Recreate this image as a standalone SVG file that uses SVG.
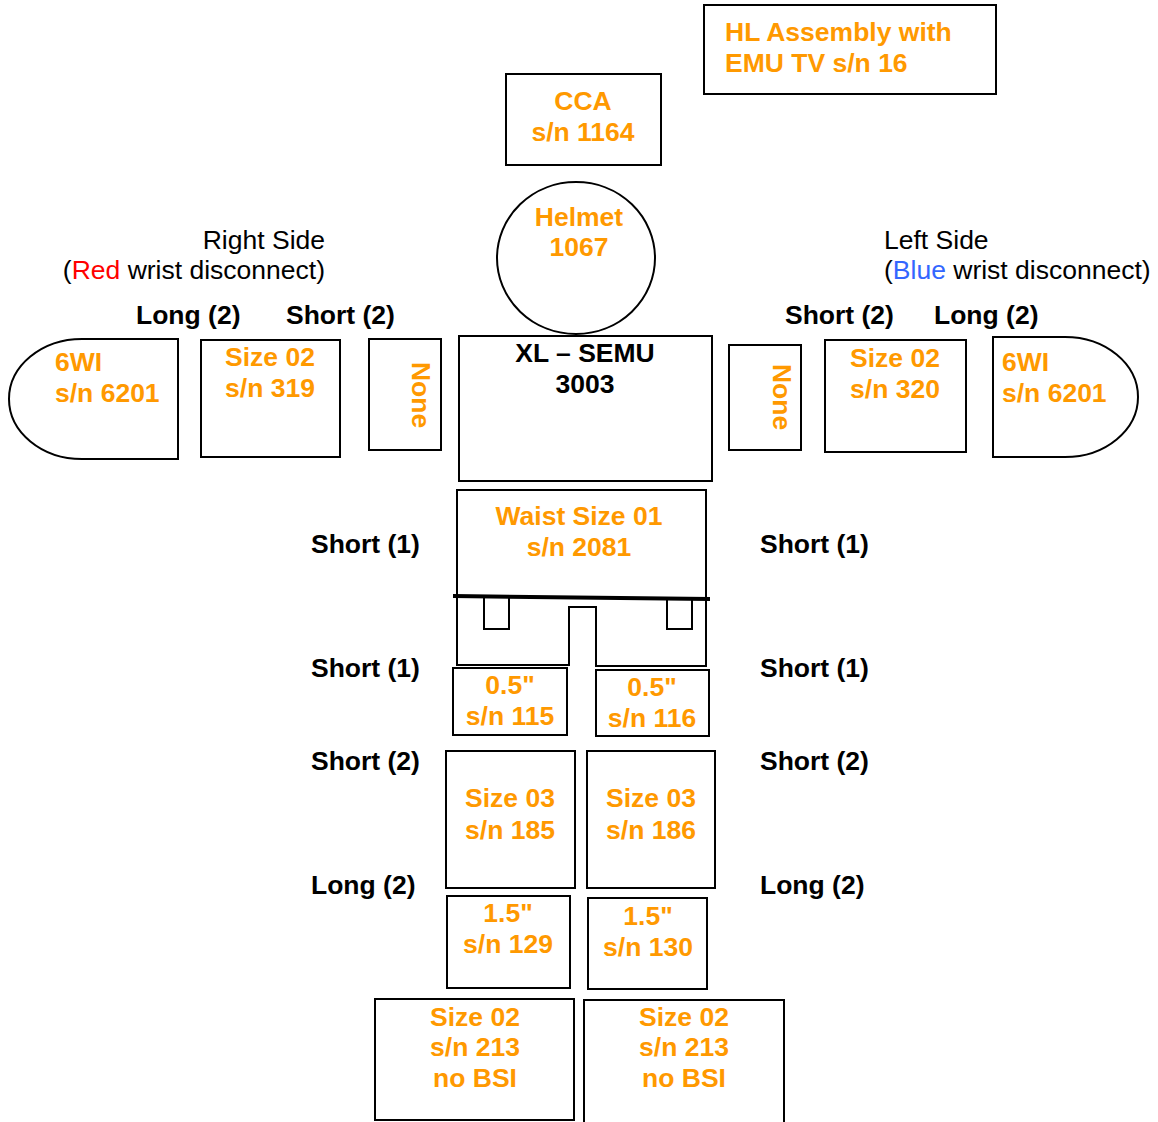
<svg xmlns="http://www.w3.org/2000/svg" width="1158" height="1122" viewBox="0 0 1158 1122">
<style>
.b{fill:#fff;stroke:#000;stroke-width:2}
.o{font-family:"Liberation Sans",Arial,sans-serif;font-weight:bold;font-size:26.5px;fill:#FF9900}
.k{font-family:"Liberation Sans",Arial,sans-serif;font-weight:bold;font-size:26.5px;fill:#000}
.n{font-family:"Liberation Sans",Arial,sans-serif;font-size:26.5px;fill:#000}
.m{text-anchor:middle}
</style>
<rect width="1158" height="1122" fill="#fff"/>
<g id="hl"><rect class="b" x="704" y="5" width="292" height="89"/>
<text class="o" x="725" y="41">HL Assembly with</text><text class="o" x="725" y="72">EMU TV s/n 16</text></g>
<g id="cca"><rect class="b" x="506" y="74" width="155" height="91"/>
<text class="o m" x="583" y="110">CCA</text><text class="o m" x="583" y="141">s/n 1164</text></g>
<g id="helmet"><ellipse class="b" cx="576" cy="258" rx="79" ry="76"/>
<text class="o m" x="579" y="226">Helmet</text><text class="o m" x="579" y="256">1067</text></g>
<g id="rightlabel"><text class="n" x="325" y="249" text-anchor="end">Right Side</text>
<text class="n" x="325" y="279" text-anchor="end">(<tspan fill="#FF0000">Red</tspan> wrist disconnect)</text></g>
<g id="leftlabel"><text class="n" x="884" y="249">Left Side</text>
<text class="n" x="884" y="279">(<tspan fill="#3366FF">Blue</tspan> wrist disconnect)</text></g>
<g id="armlabels"><text class="k" x="136" y="324">Long (2)</text><text class="k" x="286" y="324">Short (2)</text>
<text class="k" x="785" y="324">Short (2)</text><text class="k" x="934" y="324">Long (2)</text></g>
<g id="glove-r"><path class="b" d="M178,339 L82,339 A73,60 0 0 0 82,459 L178,459 Z"/>
<text class="o" x="55" y="371">6WI</text><text class="o" x="55" y="402">s/n 6201</text></g>
<g id="arm-r"><rect class="b" x="201" y="340" width="139" height="117"/>
<text class="o m" x="270" y="366">Size 02</text><text class="o m" x="270" y="397">s/n 319</text></g>
<g id="none-r"><rect class="b" x="369" y="339" width="72" height="111"/>
<text class="o m" transform="translate(421,395) rotate(90)" x="0" y="9.5">None</text></g>
<g id="torso"><rect class="b" x="459" y="336" width="253" height="145"/>
<text class="k m" x="585" y="362">XL – SEMU</text><text class="k m" x="585" y="393">3003</text></g>
<g id="none-l"><rect class="b" x="729" y="345" width="72" height="105"/>
<text class="o m" transform="translate(782,397) rotate(90)" x="0" y="9.5">None</text></g>
<g id="arm-l"><rect class="b" x="825" y="340" width="141" height="112"/>
<text class="o m" x="895" y="367">Size 02</text><text class="o m" x="895" y="398">s/n 320</text></g>
<g id="glove-l"><path class="b" d="M993,337 L1065,337 A73,60 0 0 1 1065,457 L993,457 Z"/>
<text class="o" x="1002" y="371">6WI</text><text class="o" x="1002" y="402">s/n 6201</text></g>
<g id="waist"><path class="b" d="M457,490 L706,490 L706,666 L596,666 L596,607 L569,607 L569,665 L457,665 Z"/>
<rect class="b" x="484" y="597" width="25" height="32"/><rect class="b" x="667" y="598" width="25" height="31"/>
<line x1="453" y1="596" x2="710" y2="599" stroke="#000" stroke-width="4"/>
<text class="o m" x="579" y="525">Waist Size 01</text><text class="o m" x="579" y="556">s/n 2081</text></g>
<g id="sidelabels"><text class="k" x="311" y="553">Short (1)</text><text class="k" x="760" y="553">Short (1)</text>
<text class="k" x="311" y="677">Short (1)</text><text class="k" x="760" y="677">Short (1)</text>
<text class="k" x="311" y="770">Short (2)</text><text class="k" x="760" y="770">Short (2)</text>
<text class="k" x="311" y="894">Long (2)</text><text class="k" x="760" y="894">Long (2)</text></g>
<g id="ring-r"><rect class="b" x="453" y="668" width="114" height="67"/>
<text class="o m" x="510" y="694">0.5"</text><text class="o m" x="510" y="725">s/n 115</text></g>
<g id="ring-l"><rect class="b" x="596" y="670" width="113" height="66"/>
<text class="o m" x="652" y="696">0.5"</text><text class="o m" x="652" y="727">s/n 116</text></g>
<g id="leg-r"><rect class="b" x="446" y="751" width="129" height="137"/>
<text class="o m" x="510" y="807">Size 03</text><text class="o m" x="510" y="839">s/n 185</text></g>
<g id="leg-l"><rect class="b" x="587" y="751" width="128" height="137"/>
<text class="o m" x="651" y="807">Size 03</text><text class="o m" x="651" y="839">s/n 186</text></g>
<g id="lower-r"><rect class="b" x="447" y="896" width="123" height="92"/>
<text class="o m" x="508" y="922">1.5"</text><text class="o m" x="508" y="953">s/n 129</text></g>
<g id="lower-l"><rect class="b" x="588" y="898" width="119" height="91"/>
<text class="o m" x="648" y="925">1.5"</text><text class="o m" x="648" y="956">s/n 130</text></g>
<g id="boot-r"><rect class="b" x="375" y="999" width="199" height="121"/>
<text class="o m" x="475" y="1026">Size 02</text><text class="o m" x="475" y="1056">s/n 213</text><text class="o m" x="475" y="1087">no BSI</text></g>
<g id="boot-l"><rect class="b" x="584" y="1000" width="200" height="130"/>
<text class="o m" x="684" y="1026">Size 02</text><text class="o m" x="684" y="1056">s/n 213</text><text class="o m" x="684" y="1087">no BSI</text></g>
<g id="connectors"></g>
</svg>
